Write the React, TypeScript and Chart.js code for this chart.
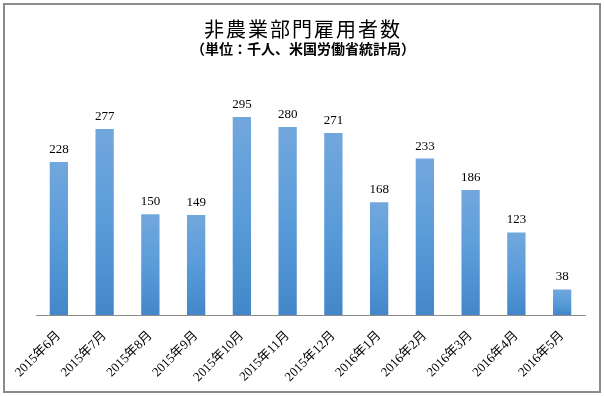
import React, { useEffect, useRef } from "react";
import { Chart, registerables } from "chart.js";

Chart.register(...registerables);

const categories = [
  "2015年6月", "2015年7月", "2015年8月", "2015年9月", "2015年10月", "2015年11月",
  "2015年12月", "2016年1月", "2016年2月", "2016年3月", "2016年4月", "2016年5月",
];
const payrolls = [228, 277, 150, 149, 295, 280, 271, 168, 233, 186, 123, 38];
const titleText = "非農業部門雇用者数";
const subtitleText = "（単位：千人、米国労働省統計局）";

export default function App() {
  const ref = useRef<HTMLCanvasElement>(null);
  useEffect(() => {
    const canvas = ref.current;
    if (!canvas) return;
    const titlePlugin = {
      id: "customTitle",
      afterDraw(chart: any) {
        const ctx = chart.ctx;
        ctx.save();
        ctx.fillStyle = "#000";
        ctx.textAlign = "center";
        ctx.textBaseline = "middle";
        ctx.font = '20px "Noto Sans CJK JP"';
        (ctx as any).letterSpacing = "2px";
        ctx.fillText(titleText, 303, 29);
        ctx.font = 'bold 14px "Noto Sans CJK JP"';
        (ctx as any).letterSpacing = "0px";
        ctx.fillText(subtitleText, 303, 49);
        ctx.restore();
      },
    };
    const labelPlugin = {
      id: "valueLabels",
      afterDatasetsDraw(chart: any) {
        const ctx = chart.ctx;
        const meta = chart.getDatasetMeta(0);
        ctx.save();
        ctx.fillStyle = "#000";
        ctx.textAlign = "center";
        ctx.textBaseline = "alphabetic";
        ctx.font = '13px "Liberation Serif", serif';
        meta.data.forEach((bar: any, i: number) => {
          ctx.fillText(String(payrolls[i]), bar.x, bar.y - 9);
        });
        ctx.restore();
      },
    };
    const chart = new Chart(canvas, {
      type: "bar",
      data: {
        labels: categories,
        datasets: [
          {
            data: payrolls,
            categoryPercentage: 1,
            barPercentage: 0.4,
            backgroundColor: (c: any) => {
              const ch = c.chart;
              const ys = ch.scales.y;
              if (!ys || c.raw == null) return "#5b9bd5";
              const top = ys.getPixelForValue(c.raw);
              const base = ys.getPixelForValue(0);
              if (!isFinite(top) || !isFinite(base) || top === base) return "#5b9bd5";
              const g = ch.ctx.createLinearGradient(0, top, 0, base);
              g.addColorStop(0, "#72a7dd");
              g.addColorStop(0.5, "#5a9cd9");
              g.addColorStop(1, "#4487c9");
              return g;
            },
            borderWidth: 0,
          },
        ],
      },
      options: {
        responsive: false,
        animation: false,
        layout: { padding: { left: 36, right: 19, top: 80, bottom: 5 } },
        plugins: {
          legend: { display: false },
          tooltip: { enabled: false },
          title: { display: false },
        },
        scales: {
          y: {
            display: false,
            min: 0,
            max: 350,
          },
          x: {
            grid: { display: false, drawTicks: false },
            border: { display: true, color: "#8c8c8c", width: 1 },
            ticks: {
              color: "#000",
              font: { family: '"Liberation Serif", "Noto Sans CJK JP", serif', size: 13 },
              minRotation: 45,
              maxRotation: 45,
              padding: 13,
            },
            afterFit: (axis: any) => {
              axis.height = 76;
            },
          },
        },
      },
      plugins: [titlePlugin, labelPlugin],
    });
    return () => chart.destroy();
  }, []);
  return (
    <div style={{ position: "absolute", left: 0, top: 0, width: 604, height: 396, background: "#fff" }}>
      <div
        style={{
          position: "absolute",
          left: 3,
          top: 3,
          width: 594,
          height: 386,
          border: "2px solid #8c8c8c",
        }}
      />
      <canvas ref={ref} width={604} height={396} style={{ position: "absolute", left: 0, top: 0 }} />
    </div>
  );
}
